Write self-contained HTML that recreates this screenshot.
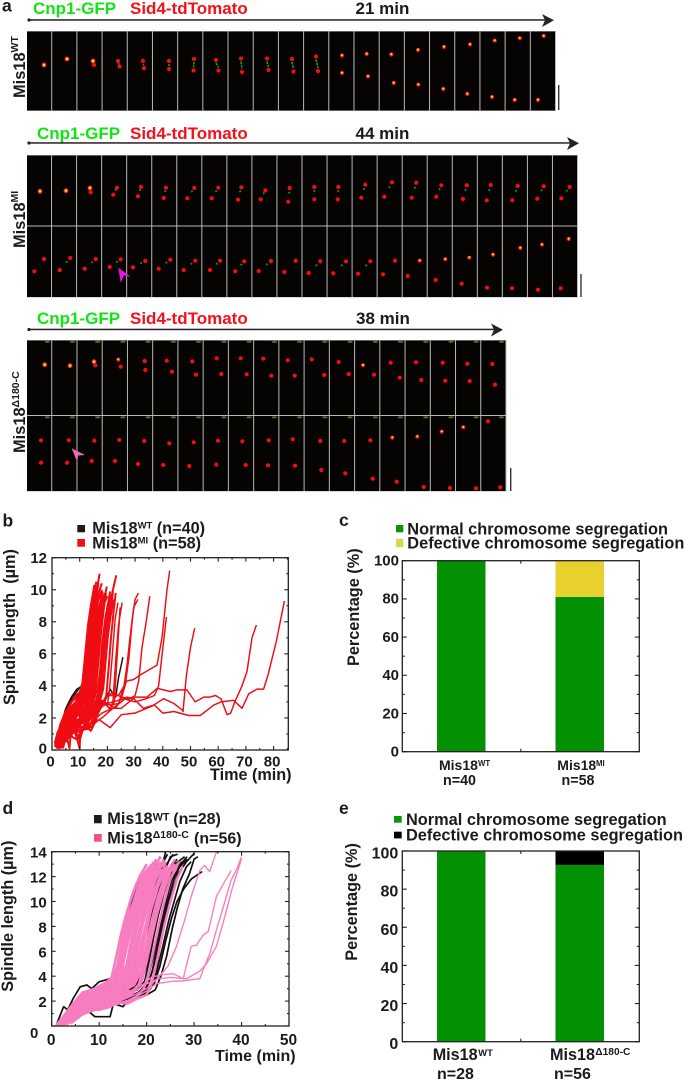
<!DOCTYPE html>
<html lang="en">
<head>
<meta charset="utf-8">
<title>Mis18 spindle dynamics figure</title>
<style>
html,body{margin:0;padding:0;background:#fff;width:685px;height:1081px;overflow:hidden}
svg{display:block}
text{font-family:"Liberation Sans",sans-serif;font-weight:bold;fill:#1c1a1a;white-space:pre}
</style>
</head>
<body>
<svg id="figure" xmlns="http://www.w3.org/2000/svg" width="685" height="1081" viewBox="0 0 685 1081">
  <rect width="685" height="1081" fill="#fff"/>

  <g font-size="17.5">
    <text x="2" y="11.7" font-size="17.5">a</text>
    <text x="2.5" y="526.7" font-size="17.5">b</text>
    <text x="339" y="526" font-size="17.5">c</text>
    <text x="2.5" y="814" font-size="17.5">d</text>
    <text x="339" y="814" font-size="17.5">e</text>
  </g>

  <g>
    <text x="33" y="14" font-size="17" style="fill:#12e612">Cnp1-GFP</text>
    <text x="130" y="14" font-size="17" style="fill:#f5101c">Sid4-tdTomato</text>
    <text x="355.5" y="14" font-size="17">21 min</text>
    <text x="37" y="139" font-size="17" style="fill:#12e612">Cnp1-GFP</text>
    <text x="130" y="139" font-size="17" style="fill:#f5101c">Sid4-tdTomato</text>
    <text x="355.5" y="139" font-size="17">44 min</text>
    <text x="37" y="324" font-size="17" style="fill:#12e612">Cnp1-GFP</text>
    <text x="130" y="324" font-size="17" style="fill:#f5101c">Sid4-tdTomato</text>
    <text x="356" y="324" font-size="17">38 min</text>
    <g><circle cx="29" cy="20" r="1.6" fill="#2a2020"/><rect x="29" y="19.2" width="516" height="1.5" fill="#2a2020"/><path d="M542 14 L554 20.3 L542 27 L545 20.3 Z" fill="#2a2020"/></g>
    <g><circle cx="29" cy="143" r="1.6" fill="#2a2020"/><rect x="29" y="142.2" width="541" height="1.5" fill="#2a2020"/><path d="M567 137 L579 143.3 L567 150 L570 143.3 Z" fill="#2a2020"/></g>
    <g><circle cx="29" cy="329.5" r="1.6" fill="#2a2020"/><rect x="29" y="328.7" width="466" height="1.5" fill="#2a2020"/><path d="M491 323.5 L503 329.8 L491 336.5 L494 329.8 Z" fill="#2a2020"/></g>
  </g>

  <g>
    <text transform="translate(25,98) rotate(-90)" font-size="16.4">Mis18<tspan font-size="10.5" dy="-7">WT</tspan></text>
    <text transform="translate(25,248) rotate(-90)" font-size="16.4">Mis18<tspan font-size="10.5" dy="-7">MI</tspan></text>
    <text transform="translate(25,453) rotate(-90)" font-size="16.4">Mis18<tspan font-size="10.5" dy="-6">Δ180-C</tspan></text>
  </g>

  <g id="micrographs"></g>

  <g>
    <rect x="558" y="85" width="1.4" height="25" fill="#333"/>
    <rect x="580.3" y="274" width="1.4" height="23" fill="#333"/>
    <rect x="510" y="468" width="1.4" height="23" fill="#333"/>
  </g>

  <path d="M118.3 267.7 L130.7 276.7 L124 275.5 L120.7 282.7 Z" fill="#ea14dc"/>
  <path d="M71.7 448.3 L85 455 L78 455.5 L77.3 462.3 Z" fill="#f26ab8"/>

  <!-- panel b -->
  <g>
    <rect x="77.3" y="525" width="7.7" height="7.3" fill="#231815"/>
    <text x="92.3" y="533.3" font-size="16.3">Mis18</text>
    <text x="137.6" y="528.5" font-size="9.5">WT</text>
    <text x="156.7" y="533.3" font-size="16.3">(n=40)</text>
    <rect x="77.3" y="539" width="7.7" height="7.7" fill="#f01010"/>
    <text x="92.3" y="548.3" font-size="16.3">Mis18</text>
    <text x="137.6" y="543.5" font-size="9.5">MI</text>
    <text x="152.7" y="548.3" font-size="16.3">(n=58)</text>
  </g>
  <text transform="translate(15,705) rotate(-90)" font-size="16.3">Spindle length  (µm)</text>
  <text x="210" y="780" font-size="16.2">Time (min)</text>
  <g id="chartB"></g>

  <!-- panel c -->
  <g>
    <rect x="396" y="525" width="7.3" height="7.3" fill="#069606"/>
    <text x="407.3" y="534.3" font-size="16.35">Normal chromosome segregation</text>
    <rect x="396" y="539" width="7.3" height="8" fill="#d8d84a"/>
    <text x="407.3" y="548.7" font-size="16.35">Defective chromosome segregation</text>
  </g>
  <text transform="translate(359,666) rotate(-90)" font-size="16.3">Percentage (%)</text>
  <g id="chartC"></g>
  <g>
    <text x="439" y="770" font-size="14">Mis18</text>
    <text x="478" y="766" font-size="7.8">WT</text>
    <text x="443" y="785" font-size="14.3">n=40</text>
    <text x="557.3" y="770" font-size="14">Mis18</text>
    <text x="596" y="766" font-size="7.8">MI</text>
    <text x="561.5" y="785" font-size="14.3">n=58</text>
  </g>

  <!-- panel d -->
  <g>
    <rect x="94" y="815" width="7.7" height="8.3" fill="#231815"/>
    <text x="107.3" y="824" font-size="16.3">Mis18</text>
    <text x="152.7" y="820.5" font-size="10.8">WT</text>
    <text x="173.3" y="824" font-size="16">(n=28)</text>
    <rect x="94" y="834" width="7.7" height="7.7" fill="#ef5480"/>
    <text x="107.3" y="843.3" font-size="16.3">Mis18</text>
    <text x="152.7" y="838" font-size="10.5">Δ180-C</text>
    <text x="194" y="843.3" font-size="16">(n=56)</text>
  </g>
  <text transform="translate(13,991.7) rotate(-90)" font-size="16.25">Spindle length (µm)</text>
  <text x="215" y="1061" font-size="16">Time (min)</text>
  <g id="chartD"></g>

  <!-- panel e -->
  <g>
    <rect x="394" y="816" width="7.7" height="6.7" fill="#069606"/>
    <text x="406" y="825" font-size="16.35">Normal chromosome segregation</text>
    <rect x="394" y="831.7" width="7.7" height="6.7" fill="#000"/>
    <text x="406" y="840.7" font-size="16.35">Defective chromosome segregation</text>
  </g>
  <text transform="translate(357,960.7) rotate(-90)" font-size="16.3">Percentage (%)</text>
  <g id="chartE"></g>
  <g>
    <text x="432.7" y="1060" font-size="16.2">Mis18</text>
    <text x="478.3" y="1056" font-size="9.3">WT</text>
    <text x="437" y="1079" font-size="16">n=28</text>
    <text x="550" y="1060" font-size="16.2">Mis18</text>
    <text x="595.3" y="1055" font-size="10.2">Δ180-C</text>
    <text x="554" y="1079" font-size="16">n=56</text>
  </g>
</svg>

<script>
/* ---------- panel b data: [time, length, time, length, ...] ---------- */
const bWildTypeTraces = [
 [1.5,.4,3,1.4,5,2.6,7,3.3,9,3.8,11,4,12,5.2,13,6.6,14,8,15,9],
 [2,.1,4,.4,5.5,.6,7,1.4,9,2.5,11,3.2,12.5,4.5,14,7.2,15.5,9],
 [3,.5,8,2,12,2.5,16,2.8,19,3,21,3.8,22,3.5,23,3.3,24,4.5,25.6,5.8],
 [1,.5,2,1,4,2,6,2.9,8,3.4,10,3.9,11.5,4.1,12.2,6,13.2,7.6,14.4,8.9],
 [2,.3,5,1.6,8,2.6,10,3.1,14,3.3,17,3.4,18,5,19,7,20,8.6],
 [1.5,.2,4,1.5,7,2.4,10,3.6,11.5,3.8,12.6,5.4,13.8,8,15,9.6]
];
const bMitosisTraces = [
 [1.5,.2,3,1,5,1.7,7,2.2,9,2.7,10.5,3.4,11.5,5,13,7.5,14.5,9.2,16,10.2],
 [1.5,.1,3,.6,5,1.4,7,1.9,9,2.4,11,3,12,4.4,13.5,6.8,15,8.6,16.5,10.3,17.2,11],
 [2,.1,3,.9,5,1.1,6.3,.1,7,1.5,9,2.1,11,2.6,12.5,3.4,13.5,5.2,15,8,16,9.4,18,10.4],
 [1.5,.3,2.5,1.2,4,1.6,6,2.5,8,2.9,10,3.2,12,3.5,13,5,14.5,7.8,16,9.2,17,9.9],
 [2,.2,4,.5,6,1.2,8,1.3,10,.1,10.3,1.6,12,2.4,14,3.1,15,5,16,7.2,17.5,9,19,9.8],
 [1.5,.4,3,1.4,5,2.2,7,2.6,9,3.1,11,2.9,13,3.3,14,4.8,15,7,16.5,9.2,18,10],
 [3,.2,5,.8,7,1.1,9,1.8,11,2.2,13,2.6,15,3,16,4.4,17,6.5,18.5,8.6,19.5,9.8],
 [2,.3,4,1,6,1.6,8,1.1,10,1.5,12,1.3,14,2.2,16,2.7,17,4,18,6,19.5,8.4,21,9.9],
 [2.5,.2,4,.9,6,1.9,8,2.4,10,2.7,12,3.1,13.5,3.8,14.5,6,15.5,8.4,16.5,9.6],
 [1.5,.5,3,1.6,5,2.4,7,3,9,3.3,10.5,3.1,12,3.3,13,5.4,14,7.2,15,8.8,16,9.9],
 [3,.4,5,1,7,1.7,9,2.3,11,2.8,13,3.2,15,3.4,16,5.2,17.5,7.8,19,9.2,20,9.6],
 [4,.1,5,.9,7,1.4,9,1.9,11,1.7,13,2.4,15,2.8,17,3.2,18,4.6,19,6.4,20.5,8.6,22,10,23.2,10.9],
 [1,.2,2.5,1.2,4,1.9,6,2.6,8,3.3,10,3.6,11,4.2,12,6,13,7.8,14,9,15.3,10.3],
 [2,.1,3.5,.8,5.5,1.5,7.5,2.1,9.5,2.9,11.5,3.2,12.5,4.3,13.5,6.3,14.5,8.2,15.5,9.3],
 [3,.3,4.5,1.3,6.5,2,8.5,2.2,10.5,2.4,12.5,2.7,14,3.4,15,5.6,16,8,17,9,18,9.5],
 [2.5,.3,4.5,1,6.5,.9,8.5,.7,10,1,12,1.5,14,1.2,16,1.9,17,3,18,5.4,19,7.4,20,9,21,9.4],
 [2,.5,4,1.8,6,2.3,8,2.7,10,3,12,3.2,14,3.6,15.5,4.2,16.5,6.2,17.5,8.2,18.5,9.3],
 [1.5,.3,3,1.1,5,1.9,7,2.4,9,2.6,11,2.8,13,3,14.5,3.6,15.5,5.4,16.5,7.6,17.5,8.8],
 [3,.1,5,.6,7,.9,9,1.6,11,2,13,1.7,15,2.4,17,2.9,18.5,3.8,19.5,5.8,20.5,7.8,21.5,9.2,22,9.9],
 [2,.4,4,1.4,6,2.1,8,2.6,10,2.9,11.5,3.6,12.5,5.6,14,8.2,15,9.6,16,10.5],
 [1.5,.2,3.5,1.3,5.5,2.1,7.5,2.8,9.5,3.2,11.2,3.4,12.2,4.8,13.2,6.6,14.6,8.6,15.8,9.5,16.8,10.4],
 [2.5,.2,4.5,1.5,6.5,1.8,8.5,2.4,10.5,2.1,12.5,2.9,14.5,3.2,15.8,4.6,16.8,6.9,17.8,8.9,18.6,9.4],
 [3.5,.5,5.5,1.2,7.5,1.6,9.5,2.5,11.5,2.4,13.5,2.2,15.5,2.9,17,3.6,18,5.8,19,7.6,20,8.9,21,9.7],
 [1,.4,2,1.1,4,1.7,6,2.2,8,2.8,9.8,3.3,11,3.8,12,5.2,13.2,7,14.2,8,15.2,8.9],
 [2,.2,3,.5,5,1.3,7,2,9,2.3,11,1.9,12.5,2.5,13.8,3.9,14.8,6.4,15.8,8.7,16.8,9.7],
 [2,.6,4,1.4,6,1.3,8,2,10,2.6,12,2.9,14,2.6,15.5,3.3,16.6,5.2,17.6,7.2,18.8,9],
 [2,.1,4,.2,5,.9,7,1.6,9,1,10,.6,12,1.8,13,1.5,14.5,1.4,16,2.2,17.5,3.4,18.5,5.6,19.4,7.8,20.4,9.2],
 [2,.2,4,1.2,6,1.7,8,2.3,10,3.1,11.6,3.7,12.8,5.4,13.8,6.9,15.2,8.7,16.2,9.8],
 [3,.2,5,1.2,7,2.1,9,2.6,11,3.3,13.4,3.6,14.4,4.9,15.4,6.3,16.8,8.4,18.2,9.9],
 [2.5,.4,5,1.6,8,2.1,11,2.5,14,2.9,16.4,3.7,17.4,5,18.2,6.8,19.4,8.4,20.8,9.4],
 [3,.6,6,1.4,9,1.4,12,2.2,15,2.5,17.8,3.4,18.8,4.8,19.8,6.6,21,8.2,22.2,9.4],
 [1.5,.2,3,.9,5,1.5,7,1.8,9,2.2,11,2.4,13,2.7,14.8,3.3,15.6,4.6,16.4,6,17.4,8,18.8,9.4,19.8,10.2],
 [3,.2,7,1.3,11,1.7,15,2.2,18,2.7,19.6,3.4,20.4,5,21.2,6.8,22.2,8.6,23,9.8],
 [3,.2,6,1.1,9,1.5,12,1.9,15,2.3,17,2.7,19,3,21,2.5,22,3,23,5.6,24,7.8,25.3,9.2],
 [4,.3,7,1.3,10,1.8,13,1.5,16,2.2,18,3.1,20,2.8,20.8,3.8,21.8,6,22.8,8.2,23.8,9.2],
 [3,.5,7,1.5,11,2,15,2.6,18,3,21,2.6,22.5,3,23.2,5,24.6,8.9],
 [5,.9,9,1.6,12,1.9,15,2.1,18,3.1,21,2.8,24,2.9,26,4,27,5.2,28,6.8,29,8.2,30,9.4,31.2,9.8],
 [4,.6,8,1.5,13,2.2,17,2.6,20,2.9,23,2.6,25,3.2,26.5,4.1,27.8,5.8,28.8,7.8,29.5,8.9,31,9.4],
 [6,1.2,10,1.1,13,1.4,16,2,19,3.2,22,3.6,25,3.3,28,3.2,30,3.4,31.3,4.3,32.5,6.4,34,8,35.3,9.6],
 [4,.7,9,1.8,13,2.1,17,2.4,20,3.4,24,3.4,27,4.3,29.5,4.4,32,4.7,36,5.1,37.9,5.3,39.7,7,41.5,10,42.5,11.2],
 [5,1,10,1.6,14,1.9,18,2.8,22,3,26,3.2,30,3,34,3.2,37,3.4,38.5,4,39.7,5.9,41.3,8.3],
 [4,.8,9,1.4,14,1.6,18,2,22,2.6,25,3,27,3.3,29.5,3.2,33,2.6,36.7,2.8,40.3,3.2,44,2.9,47,2.5,47.3,2.4,48.5,4.6,50,6.4,51.5,7.6],
 [5,.9,10,1.3,14,1.7,18,2.3,22,2.6,25,2.6,30,3.3,34.3,3.3,38,3.85,42.7,3.65,45,3.75,48.7,3.75,51.7,3,54.8,3.3,57,3.3,59,3.4,61,3.2,63.2,2.2,64.5,2.3,66,3,68.6,4,70.4,4.9,72.2,7,73.8,7.8],
 [4,.6,9,1.2,13,1.3,17,1.9,21,1.4,25,2.2,30,2.3,37,2.8,40,2.3,44,2.4,49.3,2.15,53.5,2.15,58.4,2.8,61,3,65.6,3.1,68.6,2.6,71,3.5,74,3.8,76.4,3.8,78,4.7,81,6.8,83.9,9.3]
];
const bBoldTraceCount = 33;
const bXTickLabels = [0,10,20,30,40,50,60,70,80];
const bYTickLabels = [0,2,4,6,8,10,12];

/* ---------- panel d data ---------- */
const dWildTypeTraces = [
 [3,.2,6,1,9,1.7,12,2,15,2.2,18,2.6,20,3,21.2,4.4,22.2,6.4,23.2,8.2,24.4,10,25.8,11.8,27.2,13,28.5,13.6],
 [2,.1,5,.9,9,1.5,13,2,16,2.3,19,2.8,20.4,3.4,21.6,5,22.6,6.8,23.8,8.8,25,10.4,26.6,12.2,28.4,13.2,30.1,13.9],
 [3,.3,6,1.2,10,1.6,14,2.1,17,2.3,20,2.6,21.6,3.4,22.8,4.8,24,6.8,25.2,8.6,26.4,10,27.8,11,29.4,11.8,31.7,12.4],
 [2,.2,6,1.4,10,2,14,2.4,18,2.9,19.6,3.6,20.6,5.4,21.4,7,22.4,8.8,23.6,10.6,24.8,12,26,13,28,13.6],
 [2,.3,5,1.4,9,2.2,13,2.6,18,3.1,19,3.9,20,5.6,20.8,7.4,21.8,9.4,23,11.2,24,12.6,25,13.6,26.5,13.8],
 [1.5,.2,5,1.6,9,2.4,13,2.8,17.5,3.1,18.8,4,19.8,6.2,20.6,8,21.4,9.6,22.4,11.2,23.4,13,24,14],
 [3,.4,7,1.2,11,1.6,15,2,19,2.7,20.6,3,22,4.2,23.4,6.4,24.6,8.4,25.8,10,27,11.6,28.4,12.8,29.4,13.2],
 [3,.3,7,1,11,1.5,16,2,20,2.5,21.8,2.9,23,4,24.2,5.6,25.4,7.8,26.4,9.4,27.6,11,29,12.2,30,13.4,30.8,13.6],
 [1.5,.2,3,.8,5,1.1,6.2,1.2,7.4,1.3,9.1,.75,12.3,.75,13,1.8,15,1.55,16.8,2.4,18,2.6,20,2.7,21,3.4,22,4.6,23,6.8,24.2,9,25.2,10.6],
 [1,.1,2.5,1.55,3.4,1.3,4.5,2.2,6,3.15,7.4,3.3,8.4,3,10,3.55,12.3,3.8,13.4,4.2,14.4,6,15.6,8,17,10,18.5,11.8,20,13],
 [2,.2,6,1.3,10,2,14,2.4,17,2.9,18.4,3.8,19.6,5.6,20.4,7,21.2,8.6,22,10,23,11.6,24.2,13,25.6,13.8],
 [2,.1,6,1.1,10,1.7,14,2.2,18,2.6,19.6,3.2,20.8,4.8,21.8,6.6,22.8,8.4,24,10.2,25.4,11.8,27,12.8,28.6,13.4],
 [3,.4,7,1.5,11,2.2,15,2.7,18.6,3.3,19.8,4.6,20.8,6.4,21.6,8,22.6,9.8,23.8,11.4,25.2,12.8,26.4,13.4],
 [2.5,.3,6,1.2,10,1.8,15,2.2,19,2.8,20.4,4,21.4,5.6,22.4,7.4,23.4,9,24.6,10.8,25.8,12.4,27.4,13.2],
 [1.5,.2,5,1.3,9,2,13,2.5,16,2.9,17.6,3.8,18.6,5.4,19.6,7.4,20.6,9.4,21.6,11,23,12.8,24.4,13.8],
 [2,.2,6,1.6,10,2.3,14,3,16.5,3.4,17.6,5,18.4,7,19.4,9,20.4,10.8,21.6,12.6,22.8,13.6]
];
const dDeltaTraces = [
 [1,0,3,.9,5,1.9,7,2.5,9,2.9,11,3.2,12.5,3.7,13.5,5.4,14.5,7.2,15.5,8.7,17,10.6,18.5,12,20,13],
 [1.2,.1,3,.7,5,1.5,7,2.1,9,2.6,11,2.9,13,3.4,14,4.8,15,6.9,16,8.4,17.5,10.2,19,11.8,20.5,12.8],
 [1.5,0,3.5,.8,5.5,1.3,7.5,1.7,9.5,2.2,11.5,2.6,13.5,3.2,14.6,4.6,15.6,6.4,16.8,8.2,18,10,19.5,11.8,21,13],
 [1,.1,2.5,.6,4.5,1.6,6.5,2.5,8.5,2.7,10.5,3,12.5,3.4,14,4,15.2,5.8,16.4,7.8,17.8,9.8,19.5,11.6,21.5,13.2],
 [2,0,4,.8,6,1.2,8,1.4,10,1.5,12,2,14,2.4,15.4,3.4,16.4,5,17.4,6.8,18.6,9,20,11,21.6,12.6],
 [1.5,.1,3,.7,5,1.3,7,1.9,9,2.3,11,2.6,13,2.9,15,3.6,16,5.2,17,7,18.4,9.4,19.8,11.4,22,13.4],
 [2,.2,4,1,6,1.6,8,2,10,2.4,12,2.7,14,3,15.6,3.8,16.6,5.6,17.6,7.4,18.8,9.4,20.2,11.2,22.4,12.8],
 [2.5,.1,4.5,.7,6.5,1.1,8.5,1.3,10.5,1.4,12.5,1.8,14.5,2.2,16,2.9,17,4.2,18,6,19.2,8.2,20.6,10.2,22.6,12.6],
 [1,0,2.5,.8,4.5,1.8,6.5,2.7,8.5,2.9,10.5,3.3,12.5,3.6,14.5,4.2,15.6,6.2,16.6,8,17.6,9.6,19,11.4,23,13.6],
 [3,.3,5,1,7,1.4,9,1.8,11,2.1,13,2.4,15,2.7,16.8,3.4,18,5,19,6.8,20.2,8.8,21.6,10.8,23.4,12.6],
 [2,.1,4,.6,6,1.1,8,1.7,10,2,12,2.2,14,2.5,16,3,17.6,3.8,18.6,5.4,19.6,7.2,21,9.4,22.4,11.2,24,13.2],
 [3,.2,5,.7,7,1,9,1.3,11,1.6,13,2,15,2.2,17,2.6,18.4,3.4,19.4,4.8,20.4,6.6,21.6,8.6,23,10.6,25,12.8],
 [1.5,.2,3.5,1,5.5,1.7,7.5,2.3,9.5,2.6,11.5,2.9,13.5,3.1,15.5,3.5,17,4.2,18,6,19,8,20,9.8,21.4,11.4,23,12.6],
 [4,.4,6,.9,8,1.2,10,1.4,12,1.6,14,1.8,16,2,18,2.4,19.4,3,20.4,4.2,21.4,6,22.4,7.8,23.6,9.8,25,11.8,26.6,13],
 [2,.3,4,1.1,6,1.9,8,2.3,10,2.7,12,3,13,3.3,14.2,4.4,15,6,15.8,7.6,16.8,9.4,18.2,11.2,19.8,12.4],
 [3.5,.4,5.5,1.1,7.5,1.5,9.5,1.9,11.5,2.3,13.5,2.6,15.5,2.9,17.4,3.3,18.8,4.4,19.8,6.2,21,8.4,22.4,10.4,24,12.2,26,13.4],
 [2.5,.2,4.5,.9,6.5,1.4,8.5,1.6,10.5,2.1,12.5,2.4,14.5,2.7,16.4,3.1,17.8,4.2,18.8,6,19.8,7.8,21,9.6,22.4,11.2,24.4,12.9],
 [1.5,.1,3,.5,5,1.1,7,1.5,9,2.1,11,2.5,13,2.8,14.8,3.2,16,4.4,17,6.2,18.2,8.4,19.4,10,20.8,11.6,22.2,12.4],
 [2,.2,3.5,.9,5.5,1.8,7.5,2.3,9.5,2.5,11.5,2.8,13.2,3.3,14.4,4,15.4,5.6,16.2,7,17.2,8.6,18.4,10.4,20,12,21.8,13],
 [3,.1,5,.6,7,1.3,9,1.7,11,1.9,13,2.1,15,2.5,17.4,2.9,19,3.6,20,5.2,21,7,22.2,9,23.4,10.6,25,12.4,27,13.2],
 [4,.2,6,.8,8,1.3,10,1.3,12,1.5,14,1.9,16,1.8,18,2.2,20,2.5,21,3.4,21.8,4.6,22.8,6.4,23.8,8.2,25,10,26.4,11.8,27.6,12.8],
 [1.5,.1,3.5,1.1,5.5,1.6,7.5,2.2,9.5,2.7,11.5,2.8,13.5,3.2,15,3.7,16,5,17,6.6,18,8,19.2,9.8,20.6,11.4,22.4,12.6],
 [1,.1,3,1,5,1.7,7,2.4,9,2.8,11,3.2,13,3.8,14.2,5.2,15.2,7,16.2,8.8,17.6,10.4,19.2,12,21,12.8],
 [2.5,.2,4.5,.9,6.5,1.3,8.5,1.9,10.5,2.2,12.5,2.5,14.5,2.9,16.2,3.4,17.4,5,18.4,7,19.4,8.8,20.6,10.6,22,12,23.6,13.4],
 [2,.1,4,.7,6,1.4,8,1.8,10,2.1,12,2.5,14,2.8,15.8,3.4,16.8,4.8,17.8,6.6,19,8.6,20.2,10.4,21.6,12,23.4,13],
 [3,.2,5,.9,7,1.6,9,2.2,11,2.4,13,2.7,15,3.1,16.4,3.9,17.4,5.6,18.2,7.2,19.2,9,20.4,11,22,12.4,24,13.2],
 [2,0,4,1,6,1.5,8,2.2,10,2.6,12,3,13.6,3.5,14.8,4.4,15.6,6,16.4,7.8,17.4,9.8,18.8,11.6,20.6,12.8],
 [3,.4,5,1.3,7,1.8,9,2.4,11,2.8,13,3.2,14.6,3.7,15.8,5,16.8,7,17.8,9,19,10.8,20.4,12,22,12.9],
 [1.5,.1,4,.9,6,1.5,8,1.9,10,2.2,12,2.4,14,2.6,16,3,17.6,3.6,18.8,5.2,19.8,7.4,20.8,9.2,22,11,23.6,12.5],
 [2.5,.1,5,1,7,1.4,9,1.6,11,1.8,13,2.2,15,2.4,17,2.8,18.6,3.4,19.6,5,20.6,6.8,21.8,8.8,23,10.8,24.4,12.2,26,13],
 [2,.1,4,.9,6,1.6,8,2,10,2.3,12,2.6,14,2.9,15.4,3.5,16.2,4.8,17,6.2,17.8,7.8,18.8,9.6,20,11.2,21.4,12.4,23,13.2],
 [1.5,.1,3,.9,5,1.8,7,2.7,9,3,11,3.4,12.8,3.9,13.8,4.8,14.6,6.4,15.4,8,16.4,9.8,17.8,11.4,19.4,12.4],
 [2,.1,5,1,8,1.6,11,2.2,14,2.6,17,2.9,19.5,3.4,21,3.9,22.8,4.1,25.6,4.2,27.7,3.8,29.4,6.4,30.5,6.5,31.9,7.3,33,7.6,34.7,10.4,36,11.3,37.8,12.5],
 [3,.3,6,1,10,1.6,14,2.2,17,2.7,20,3.4,22.5,3.8,25,3.9,28.4,3.8,31.2,4.4,32.6,5,34.7,6.4,36.5,8.8,38,11,40,13.4],
 [2.5,.2,6,1.1,10,1.4,14,1.8,17,2.2,20,2.8,22,3.4,25.6,3.6,27,3.6,31.2,3.8,32.2,4.8,33.3,5.8,34.7,7.7,36.5,10,37.8,11.7,39,12.6,40,13.6],
 [3,.2,7,1,11,1.5,15,2.1,18,2.6,20,3,22,3.7,24.5,4.8,26.3,6.4,28,8.5,29.4,10.4,31.2,12.5,32.2,12.9,33.3,12.4,34.7,14]
];
const dBoldTraceCount = 32;
const dXTickLabels = [0,10,20,30,40,50];
const dYTickLabels = [0,2,4,6,8,10,12,14];

/* ---------- panels c and e data ---------- */
const cCategories = ['Mis18 WT','Mis18 MI'];
const cNormalPercent = [100,81];
const cDefectivePercent = [0,19];
const eCategories = ['Mis18 WT','Mis18 Delta180-C'];
const eNormalPercent = [100,92.7];
const eDefectivePercent = [0,7.3];
const percentTickLabels = [0,20,40,60,80,100];

/* ---------- micrograph spot readings: [x1,y1,x2,y2,kind] ---------- */
const stripWT = [
 [44,65,44,65,'s'],[67,59,67,59,'s'],[93,61,94,65,'m'],[118,61,119.5,66.5,'g'],[143,61,144,68,'g'],[169,61,169,69,'g'],[194,59,193.5,70.5,'g'],
 [216,60,218.5,70.5,'g'],[241,58.5,242,72,'g'],[267,58.5,268.5,70,'g'],[292,59,293.5,71.5,'g'],[316,56.5,318,71,'g'],[342,55.5,342,73,'y'],
 [366.7,54,368,76.5,'y'],[391.3,54.5,393.7,83,'y'],[418,50,418.3,84.7,'y'],[444,47,443.3,89,'y'],[470,44.5,467.3,94,'y'],[494.7,40.7,492,97,'y'],[519.7,38.3,514.7,100,'y'],[543.7,36,538,100,'y']
];
const stripMITop = [
 [40,191.3,40,191.3,'s'],[66,190.7,66,190.7,'s'],[90,188,90.7,192.3,'m'],[117,187.7,113.3,194.7,'d'],[141,187,138,196.3,'d'],[166,187.7,163.7,198,'d'],
 [194.3,188,187.3,198.3,'d'],[218.3,187.7,211.7,198.3,'d'],[241.3,187.3,238,199.7,'d'],[265.3,190.3,260.7,199.3,'d'],[289.7,188,288.3,201.7,'d'],[314.3,187,314.3,199.3,'d'],
 [338.3,187,337.7,199.3,'d'],[365.3,184.7,361.3,197.7,'d'],[392,182.3,384.3,196.7,'d'],[416.3,182.7,411.7,197.7,'d'],[441.3,185.3,436.3,196.7,'d'],[466.7,185.3,463,199,'d'],
 [490.7,185,486.7,200.3,'d'],[517.7,186,512.3,200.3,'d'],[543.7,186.3,537.3,198.7,'d'],[569.7,187,561.3,198.3,'d']
];
const stripMIBottom = [
 [44,259,34.3,271.3,'r'],[70.3,258,59.7,270,'d'],[95.7,259,84.7,268.7,'d'],[120.7,259.3,109.7,267,'d'],[145.3,261,133,267.3,'d'],[170.3,259.7,158.7,268.7,'d'],
 [195.3,260.7,183.7,270,'d'],[220,260.7,210,270,'d'],[244.3,261.3,235.3,271.3,'d'],[271,261,258.7,271,'d'],[295.7,260.7,284.3,272,'r'],[320.3,261.3,308.7,273,'d'],
 [346,261.3,333.3,273.3,'d'],[370.3,261.3,358,273.7,'d'],[395,260.7,383,274.3,'r'],[419.7,260.7,407.7,276,'a'],[445.3,259.3,435.7,280,'a'],[469.3,257.7,461.7,283.7,'a'],
 [493,254.7,487,287.7,'a'],[520.3,248,512,288.3,'a'],[542,244.7,538,289.7,'a'],[568.7,239,560.7,288.3,'a']
];
const stripDeltaTop = [
 [44.7,364.7,44.7,364.7,'s'],[70,365.7,70,365.7,'s'],[94,361.7,95.3,365.3,'m'],[118.3,359.7,120.7,366.7,'a'],[144.7,361,145.3,370,'r'],[166.7,360.7,172,371.7,'r'],
 [192.3,361.3,196,374.7,'r'],[216.7,358.3,221.3,374,'r'],[240.7,358.3,246.7,374.3,'r'],[263.3,358.7,271.3,375.7,'r'],[287.7,360.3,294.7,375.7,'r'],[311.7,359.3,324.3,375,'r'],
 [338.7,362,348.7,374,'r'],[363,365.3,374,374.7,'a'],[390.7,362.7,399.7,377.7,'r'],[416,362.3,421.3,380,'r'],[442.7,362.7,445.3,380.7,'r'],[467.3,363.7,469.7,381,'r'],[492.3,364,495,384.7,'r']
];
const stripDeltaBottom = [
 [41,440.3,41,462.7,'r'],[68.7,440.3,67,462.7,'r'],[94.3,440.7,91.7,461,'r'],[119.3,440,115,461,'r'],[144.3,441,138,464,'r'],[169.3,443.3,163.3,465,'r'],
 [193.7,442.3,189.3,466,'r'],[218,440.7,216.3,464.7,'r'],[242.3,441.3,245.7,465,'r'],[268.7,440.3,268,465.3,'r'],[292.7,439.3,295,465.7,'r'],[320.3,441,321.3,470,'r'],
 [344.3,441,345.3,473.3,'r'],[370.3,440.3,372.7,478.7,'r'],[392.3,437.7,396.7,481.7,'a'],[417.3,436.7,423.7,487,'a'],[441.7,431.7,450,488,'a'],[463.3,427.3,476,488.3,'a'],[488,421.3,500.3,487.3,'r']
];

const NS = 'http://www.w3.org/2000/svg';
function svgEl(tag, attrs, parent) {
  const e = document.createElementNS(NS, tag);
  for (const k in attrs) e.setAttribute(k, attrs[k]);
  parent.appendChild(e);
  return e;
}

/* ---------- micrographs ---------- */
function drawSpot(g, x, y, kind) {
  const red = svgEl('circle', {cx:x, cy:y, r:2.1, fill:'#f80c0c'}, g);
  
  
  if (kind === 'y') {
    const core = svgEl('circle', {cx:x, cy:y-0.4, r:1.1, fill:'#f4e020'}, g);
    
    
  }
}
function drawRow(parent, name, frames, left, right, top, bottom, corners) {
  const g = svgEl('g', {}, parent);
  
  
  const period = (right - left) / frames.length;
  const base = svgEl('rect', {x:left, y:top, width:right-left, height:bottom-top, fill:'#b8b8b8'}, g);
  
  
  frames.forEach(function (f, i) {
    const fx = left + i * period;
    const cell = svgEl('rect', {x:fx, y:top+0.5, width:period-1, height:bottom-top-1, fill:'#060403'}, g);
    
    
    if (corners) {
      const smudge = svgEl('ellipse', {cx:fx+period-5, cy:top+1.8, rx:2.6, ry:1.1, fill:'#566a22'}, g);
      
      
    }
    const kind = f[4];
    if (kind === 's' || kind === 'm') {
      const r1 = svgEl('circle', {cx:f[0], cy:f[1], r:2.4, fill:'#f83010'}, g);
      
      
      if (kind === 'm') {
        const r2 = svgEl('circle', {cx:f[2], cy:f[3], r:2.1, fill:'#f80c0c'}, g);
        
        
      }
      const c1 = svgEl('circle', {cx:f[0], cy:f[1], r:1.2, fill:'#ffe830'}, g);
      
      
    } else {
      if (kind === 'g') {
        const bar = svgEl('line', {x1:f[0], y1:f[1]+3, x2:f[2], y2:f[3]-3, stroke:'#12b012', 'stroke-width':1.5, 'stroke-dasharray':'2.5 1'}, g);
        
        
      }
      if (kind === 'd') {
        const dot = svgEl('circle', {cx:(f[0]*2+f[2])/3, cy:(f[1]*2+f[3])/3, r:1, fill:'#14a014'}, g);
        
        
      }
      drawSpot(g, f[0], f[1], (kind === 'y' || kind === 'a') ? 'y' : 'r');
      drawSpot(g, f[2], f[3], kind === 'y' ? 'y' : 'r');
    }
  });
}
const micro = document.getElementById('micrographs');
drawRow(micro, 'micrograph-strip-wt', stripWT, 27, 556, 31, 111, false);
drawRow(micro, 'micrograph-strip-mi-top', stripMITop, 27, 578, 155, 226, false);
drawRow(micro, 'micrograph-strip-mi-bottom', stripMIBottom, 27, 578, 226, 297.5, false);
drawRow(micro, 'micrograph-strip-delta-top', stripDeltaTop, 27, 506.5, 340, 415.5, true);
drawRow(micro, 'micrograph-strip-delta-bottom', stripDeltaBottom, 27, 506.5, 415.5, 491.5, true);

/* ---------- axis scaffolding ---------- */
function drawFrame(g, L, R, T, B) {
  const box = svgEl('rect', {x:L, y:T, width:R-L, height:B-T, fill:'none', stroke:'#222', 'stroke-width':1.3}, g);
  
  
}
function tickMark(g, name, x1, y1, x2, y2) {
  const t = svgEl('line', {x1:x1, y1:y1, x2:x2, y2:y2, stroke:'#222', 'stroke-width':1.1}, g);
  
  
}
function label(g, name, x, y, str, size, anchor) {
  const t = svgEl('text', {x:x, y:y, 'font-size':size, 'text-anchor':anchor}, g);
  t.textContent = str;
  
  
}
function drawTrace(g, name, values, xf, yf, color, width) {
  let d = '';
  for (let i = 0; i < values.length; i += 2) {
    d += (i ? 'L' : 'M') + xf(values[i]).toFixed(1) + ' ' + yf(values[i+1]).toFixed(1);
  }
  const p = svgEl('path', {d:d, fill:'none', stroke:color, 'stroke-width':width, 'stroke-linejoin':'round'}, g);
  
  
}

/* ---------- panel b ---------- */
(function () {
  const g = document.getElementById('chartB');
  const L = 52, R = 288.3, T = 557.7, B = 750;
  const xB = function (t) { return L + t * 2.77; };
  const yB = function (v) { return B - v * (B - T) / 12; };
  bWildTypeTraces.forEach(function (tr) { drawTrace(g, 'trace-wt', tr, xB, yB, '#1a1414', 1.5); });
  bMitosisTraces.forEach(function (tr, i) { drawTrace(g, 'trace-mi', tr, xB, yB, '#ef0c12', i < bBoldTraceCount ? 2 : 1.45); });
  drawFrame(g, L, R, T, B);
  bXTickLabels.forEach(function (v) {
    tickMark(g, 'x-tick', xB(v), B, xB(v), B-4);
    tickMark(g, 'x-tick-top', xB(v), T, xB(v), T+4);
    tickMark(g, 'x-minor-tick', xB(v+5), B, xB(v+5), B-2);
    tickMark(g, 'x-minor-tick-top', xB(v+5), T, xB(v+5), T+2);
    label(g, 'x-tick-label', xB(v)-1.5, 766.7, String(v), 15, 'middle');
  });
  bYTickLabels.forEach(function (v) {
    tickMark(g, 'y-tick', L, yB(v), L+4, yB(v));
    tickMark(g, 'y-tick-right', R, yB(v), R-4, yB(v));
    if (v < 12) {
      tickMark(g, 'y-minor-tick', L, yB(v+1), L+2, yB(v+1));
      tickMark(g, 'y-minor-tick-right', R, yB(v+1), R-2, yB(v+1));
    }
    label(g, 'y-tick-label', 47, yB(v) + (v === 0 ? 3.3 : 5.3), String(v), 15, 'end');
  });
})();

/* ---------- panel d ---------- */
(function () {
  const g = document.getElementById('chartD');
  const L = 51.7, R = 289, T = 851.7, B = 1026;
  const xD = function (t) { return L + t * (R - L) / 50; };
  const yD = function (v) { return B - v * (B - T) / 14; };
  dWildTypeTraces.forEach(function (tr) { drawTrace(g, 'trace-wt', tr, xD, yD, '#141010', 1.7); });
  dDeltaTraces.forEach(function (tr, i) { drawTrace(g, 'trace-delta', tr, xD, yD, '#f77cc0', i < dBoldTraceCount ? 2.5 : 1.35); });
  drawFrame(g, L, R, T, B);
  dXTickLabels.forEach(function (v) {
    tickMark(g, 'x-tick', xD(v), B, xD(v), B-4);
    tickMark(g, 'x-tick-top', xD(v), T, xD(v), T+4);
    if (v < 50) {
      tickMark(g, 'x-minor-tick', xD(v+5), B, xD(v+5), B-2);
      tickMark(g, 'x-minor-tick-top', xD(v+5), T, xD(v+5), T+2);
    }
    label(g, 'x-tick-label', xD(v)-0.5, 1045, String(v), 15.5, 'middle');
  });
  dYTickLabels.forEach(function (v) {
    tickMark(g, 'y-tick', L, yD(v), L+4, yD(v));
    tickMark(g, 'y-tick-right', R, yD(v), R-4, yD(v));
    if (v < 14) {
      tickMark(g, 'y-minor-tick', L, yD(v+1), L+2, yD(v+1));
      tickMark(g, 'y-minor-tick-right', R, yD(v+1), R-2, yD(v+1));
    }
    label(g, 'y-tick-label', v === 0 ? 38.3 : 46.7, yD(v) + (v === 0 ? 12 : 6), String(v), 15, 'end');
  });
})();

/* ---------- stacked bars ---------- */
function stackedBars(id, categories, normal, defective, defectColor, L, R, T, B, size, labelRight, labelDy) {
  const g = document.getElementById(id);
  const yP = function (v) { return B - v * (B - T) / 100; };
  const barW = 48.5;
  const xBar = function (i) { return L + (R - L) * (i === 0 ? 0.25 : 0.75) - barW / 2 - 0.3; };
  categories.forEach(function (c, i) {
    const n = svgEl('rect', {x:xBar(i), y:yP(normal[i]), width:barW, height:yP(0)-yP(normal[i]), fill:'#039003'}, g);
    
    
    if (defective[i] > 0) {
      const top = normal[i] + defective[i];
      const d = svgEl('rect', {x:xBar(i), y:yP(top), width:barW, height:yP(normal[i])-yP(top), fill:defectColor}, g);
      
      
    }
  });
  drawFrame(g, L, R, T, B);
  const mid = (L + R) / 2;
  tickMark(g, 'x-tick', mid, B, mid, B-3);
  tickMark(g, 'x-tick-top', mid, T, mid, T+3);
  percentTickLabels.forEach(function (v) {
    tickMark(g, 'y-tick', L, yP(v), L+4.5, yP(v));
    tickMark(g, 'y-tick-right', R, yP(v), R-4.5, yP(v));
    if (v < 100) {
      tickMark(g, 'y-minor-tick', L, yP(v+10), L+2.5, yP(v+10));
      tickMark(g, 'y-minor-tick-right', R, yP(v+10), R-2.5, yP(v+10));
    }
    label(g, 'y-tick-label', labelRight, yP(v) + labelDy, String(v), size, 'end');
  });
}
stackedBars('chartC', cCategories, cNormalPercent, cDefectivePercent, '#e8d02e', 402.3, 639.3, 560.7, 751.7, 15, 399, 4.8);
stackedBars('chartE', eCategories, eNormalPercent, eDefectivePercent, '#000', 402.3, 639.3, 851, 1041.7, 16, 398.3, 7.5);
</script>
</body>
</html>
